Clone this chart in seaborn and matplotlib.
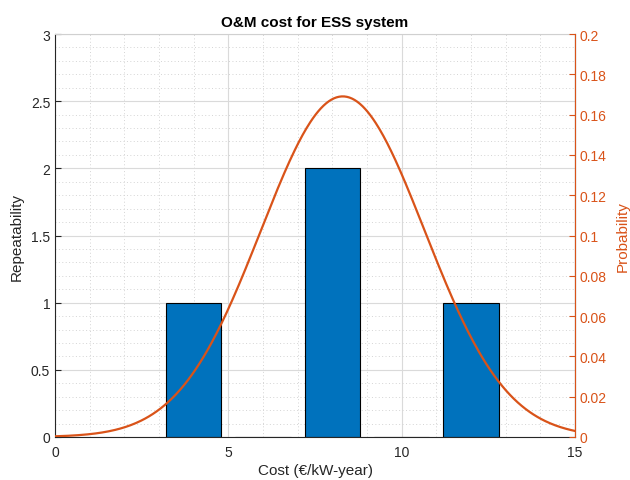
import numpy as np
import pandas as pd
import matplotlib
matplotlib.use("Agg")
import matplotlib.pyplot as plt
from matplotlib.ticker import MultipleLocator
import seaborn as sns

# Histogram of O&M cost samples (bin centres and counts)
bin_centers = [4, 6, 8, 10, 12]
bin_counts = [1, 0, 2, 0, 1]

# Fitted normal distribution parameters
fit_mu = 8.3
fit_sigma = 2.36

x_ticks = [0, 5, 10, 15]
left_ticks = [0, 0.5, 1, 1.5, 2, 2.5, 3]
right_ticks = [0, 0.02, 0.04, 0.06, 0.08, 0.1, 0.12, 0.14, 0.16, 0.18, 0.2]

BLUE = "#0072BD"
ORANGE = "#D95319"
AXGRAY = "#262626"

sns.set_style("white")
plt.rcParams["font.family"] = ["Liberation Sans", "DejaVu Sans"]

fig = plt.figure(figsize=(6.3, 4.81), dpi=100)
ax = fig.add_axes([0.0873, 0.0894, 0.8254, 0.8378])

hist_df = pd.DataFrame({"cost": bin_centers, "count": bin_counts})
sns.barplot(data=hist_df, x="cost", y="count", native_scale=True, color=BLUE,
            saturation=1, edgecolor="black", linewidth=0.8, width=0.8, ax=ax,
            zorder=2)

ax.set_xlim(0, 15)
ax.set_ylim(0, 3)
ax.set_xticks(x_ticks)
ax.set_xticklabels([str(t) for t in x_ticks])
ax.set_yticks(left_ticks)
ax.set_yticklabels(["0", "0.5", "1", "1.5", "2", "2.5", "3"])
ax.xaxis.set_minor_locator(MultipleLocator(1))
ax.yaxis.set_minor_locator(MultipleLocator(0.1))
ax.grid(which="major", color="#dadada", linewidth=0.8, zorder=0)
ax.grid(which="minor", color="#d4d4d4", linestyle=(0, (1, 2.5)), linewidth=0.7, zorder=0)
ax.set_axisbelow(True)
ax.tick_params(axis="both", which="major", direction="in", length=4,
               color=AXGRAY, labelcolor=AXGRAY, labelsize=10)
ax.tick_params(axis="both", which="minor", length=0)
ax.tick_params(axis="x", pad=6)
ax.set_xlabel("Cost (€/kW-year)", fontsize=11, color=AXGRAY, labelpad=3)
ax.set_ylabel("Repeatability", fontsize=11, color=AXGRAY, labelpad=5)
ax.set_title("O&M cost for ESS system", fontsize=11, fontweight="bold",
             color="black", pad=6)

for side in ["left", "bottom"]:
    ax.spines[side].set_color(AXGRAY)
    ax.spines[side].set_linewidth(0.8)
ax.spines["top"].set_color("#d0d0d0")
ax.spines["top"].set_linewidth(0.8)

# Fitted probability density on the right axis
ax2 = ax.twinx()
xs = np.linspace(0, 15, 400)
pdf = np.exp(-0.5 * ((xs - fit_mu) / fit_sigma) ** 2) / (fit_sigma * np.sqrt(2 * np.pi))
sns.lineplot(x=xs, y=pdf, color=ORANGE, linewidth=1.6, ax=ax2)
ax2.set_ylim(0, 0.2)
ax2.set_xlim(0, 15)
ax2.set_yticks(right_ticks)
ax2.set_yticklabels(["0", "0.02", "0.04", "0.06", "0.08", "0.1", "0.12",
                     "0.14", "0.16", "0.18", "0.2"])
ax2.tick_params(axis="y", direction="in", length=4, color=ORANGE,
                labelcolor=ORANGE, labelsize=10)
ax2.set_ylabel("Probability", fontsize=11, color=ORANGE, labelpad=6)
ax2.spines["right"].set_color(ORANGE)
ax2.spines["right"].set_linewidth(0.8)
for side in ["left", "bottom", "top"]:
    ax2.spines[side].set_visible(False)
ax2.grid(False)

fig.savefig("out.png", dpi=100)
